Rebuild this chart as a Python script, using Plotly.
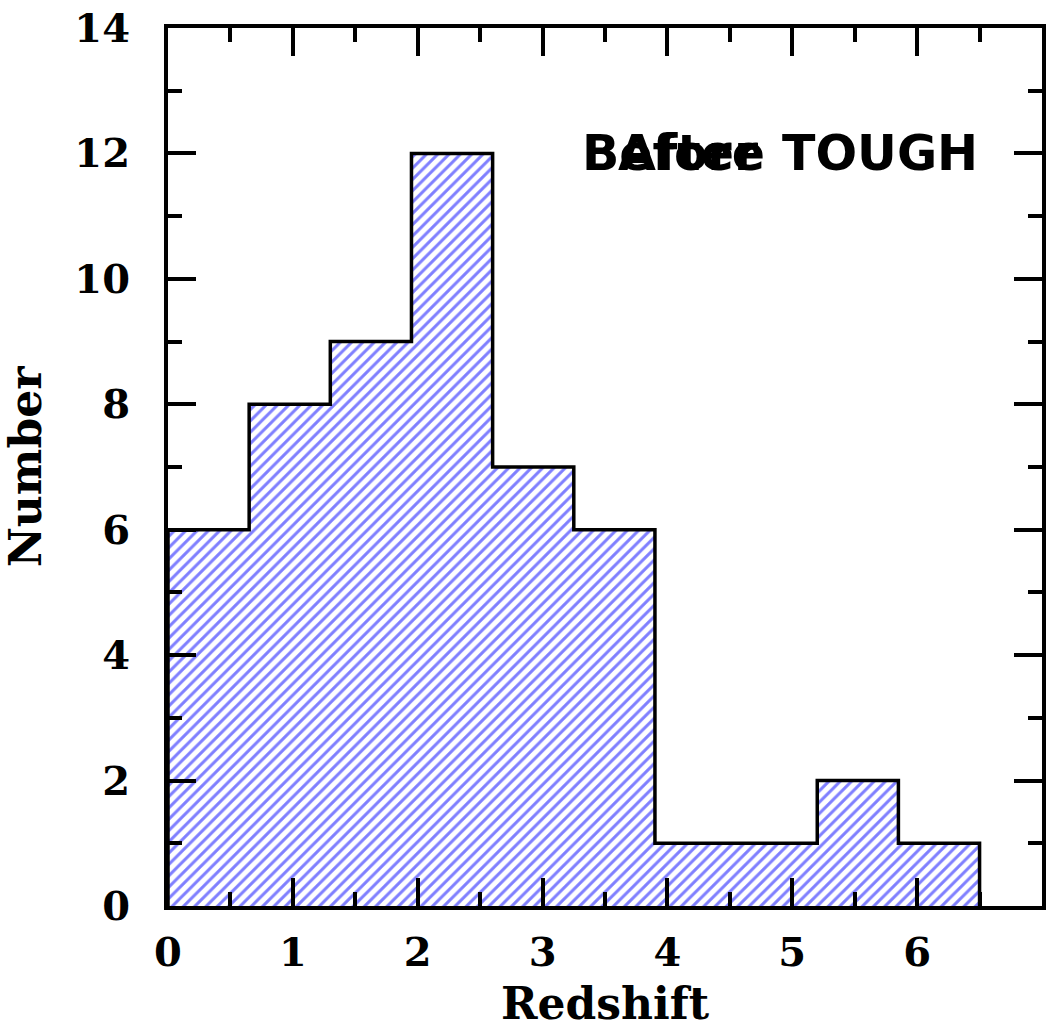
import plotly.graph_objects as go

# Data
bin_edges = [0.0, 0.65, 1.3, 1.95, 2.6, 3.25, 3.9, 4.55, 5.2, 5.85, 6.5]
counts = [6, 8, 9, 12, 7, 6, 1, 1, 2, 1]
x_ticks = [0, 1, 2, 3, 4, 5, 6]
y_ticks = [0, 2, 4, 6, 8, 10, 12, 14]
label_before = "Before TOUGH"
label_after = "After"

centers = [(bin_edges[i] + bin_edges[i + 1]) / 2 for i in range(len(counts))]
widths = [bin_edges[i + 1] - bin_edges[i] for i in range(len(counts))]

step_x = [bin_edges[0]] + bin_edges + [bin_edges[-1]]
step_y = [0] + counts + [counts[-1], 0]

fig = go.Figure()
fig.add_trace(go.Bar(
    x=centers, y=counts, width=widths,
    marker=dict(color="white", line=dict(width=0),
                pattern=dict(shape="/", fgcolor="#0000ff", bgcolor="white",
                             size=8, solidity=0.38, fillmode="overlay")),
    showlegend=False, hoverinfo="skip",
))
fig.add_trace(go.Scatter(
    x=step_x, y=step_y, mode="lines", line=dict(color="black", width=3.5, shape="hv"),
    showlegend=False, hoverinfo="skip",
))

tick_font = dict(family="DejaVu Serif", size=40, color="black", weight="bold")
title_font = dict(family="DejaVu Serif", size=44, color="black", weight="bold")

fig.update_xaxes(
    range=[0, 7], tickvals=x_ticks, ticks="inside", ticklen=28, tickwidth=3.5,
    tickcolor="black", showline=True, linewidth=4, linecolor="black", mirror="allticks",
    showgrid=False, zeroline=False, tickfont=tick_font, ticklabelstandoff=8,
    minor=dict(dtick=0.5, ticks="inside", ticklen=14, tickwidth=3.5, tickcolor="black", showgrid=False),
    title=dict(text="Redshift", font=title_font, standoff=16),
)
fig.update_yaxes(
    range=[0, 14], tickvals=y_ticks, ticks="inside", ticklen=28, tickwidth=3.5,
    tickcolor="black", showline=True, linewidth=4, linecolor="black", mirror="allticks",
    showgrid=False, zeroline=False, tickfont=tick_font, ticklabelstandoff=26,
    minor=dict(dtick=1, ticks="inside", ticklen=14, tickwidth=3.5, tickcolor="black", showgrid=False),
    title=dict(text="Number", font=title_font, standoff=24),
)

ann_font = dict(family="DejaVu Sans", size=49, color="black", weight="bold")
fig.add_annotation(x=3.3, y=12, xref="x", yref="y", text=label_before, showarrow=False,
                   xanchor="left", yanchor="middle", font=ann_font)
fig.add_annotation(x=3.3, y=12, xref="x", yref="y", text=label_after, showarrow=False,
                   xanchor="left", yanchor="middle", xshift=36, font=ann_font)

fig.update_layout(
    width=1050, height=1029, bargap=0,
    margin=dict(l=168, r=4, t=25, b=123),
    plot_bgcolor="white", paper_bgcolor="white",
)

fig.write_html("out.html")
